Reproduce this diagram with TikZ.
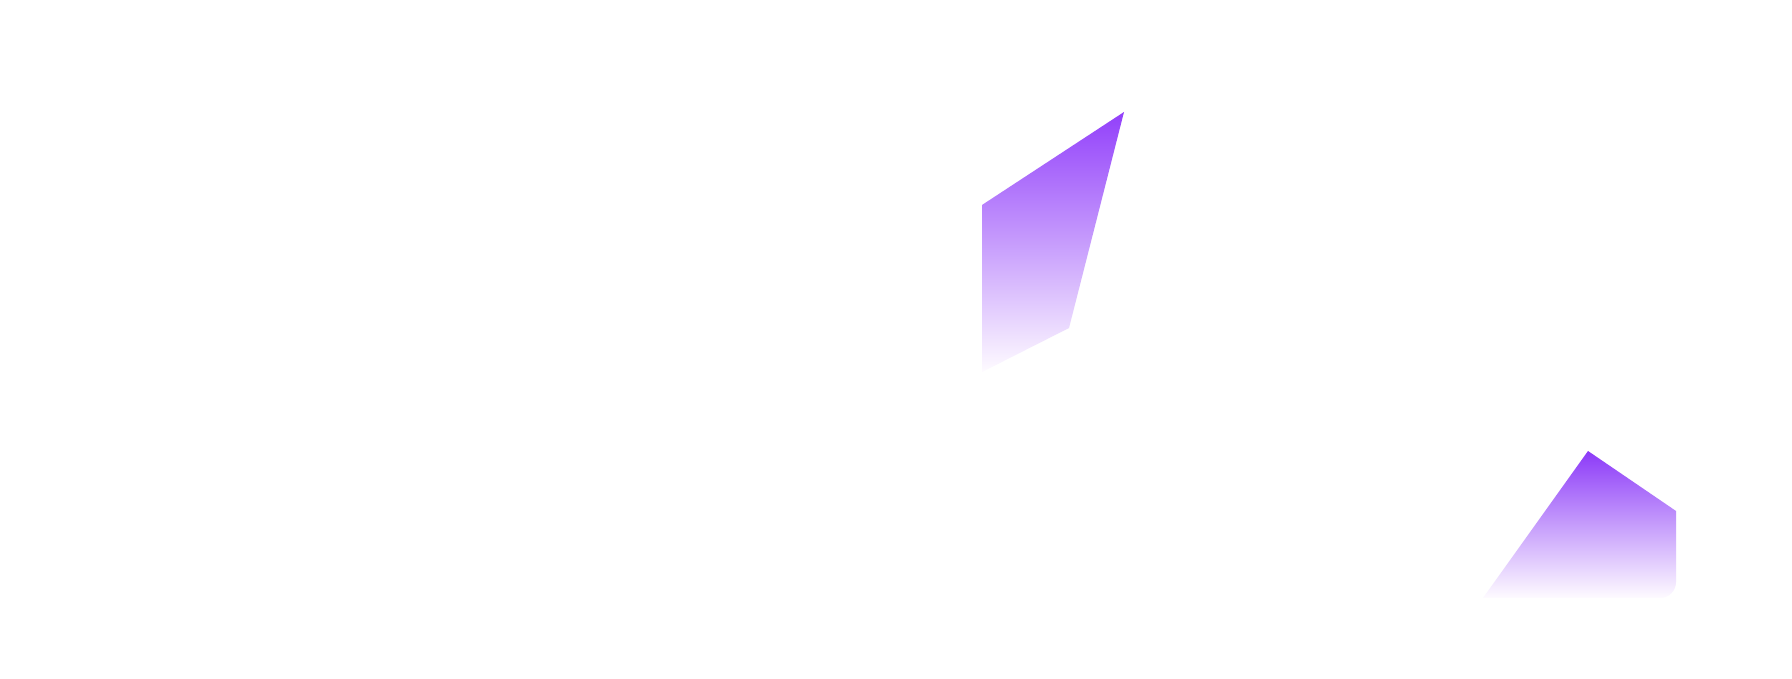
\documentclass[tikz,border=0pt]{standalone}
\usepackage{tikz}
\definecolor{purpletop}{RGB}{146,64,250}
\definecolor{purpletopb}{RGB}{140,58,248}
\definecolor{fadebot}{RGB}{254,251,255}
\tikzset{
  shard/.style={draw=none}
}
\begin{document}
\begin{tikzpicture}
  \fill[white] (0,0) rectangle (17.92,-6.79);
  \useasboundingbox (0,0) rectangle (17.92,-6.79);
  % upper shard
  \shade[shard, top color=purpletop, bottom color=fadebot, middle color=purpletop!52!white]
    (9.82,-2.05) -- (11.24,-1.12) -- (10.69,-3.28) -- (9.82,-3.72) -- cycle;
  % lower shard with a rounded bottom-right corner
  \shade[shard, top color=purpletopb, bottom color=fadebot, middle color=purpletopb!50!white]
    (15.88,-4.51) -- (16.76,-5.11) -- (16.76,-5.82) arc[start angle=0, end angle=-90, radius=0.16] -- (14.83,-5.98) -- cycle;
\end{tikzpicture}
\end{document}
